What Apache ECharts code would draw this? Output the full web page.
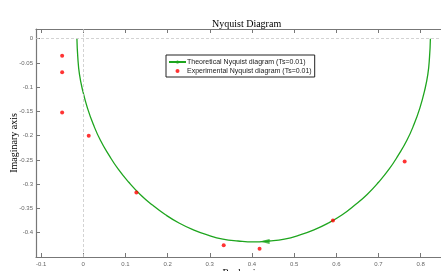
<!DOCTYPE html>
<html>
<head>
    <meta charset="utf-8">
    <style type="text/css">
        html,body { margin: 0px; padding: 0px; height: 100%; background: #fff; }
    </style>
    <script src="https://cdn.jsdelivr.net/npm/echarts@6/dist/echarts.min.js"></script>
</head>
<body>
    <div id="canvas1" style="width: 441px; height: 271px;"></div>
    <script type="text/javascript">
        // tick labels
        var xTicks = [-0.1, 0, 0.1, 0.2, 0.3, 0.4, 0.5, 0.6, 0.7, 0.8];
        var yTicks = [0, -0.05, -0.1, -0.15, -0.2, -0.25, -0.3, -0.35, -0.4];

        // theoretical curve
        var theoReal = [0.823, 0.821, 0.817, 0.809, 0.798, 0.784, 0.767, 0.747, 0.725, 0.700, 0.673,
                        0.644, 0.614, 0.581, 0.547, 0.512, 0.477, 0.441, 0.404, 0.367, 0.331,
                        0.296, 0.261, 0.227, 0.195, 0.164, 0.135, 0.108, 0.083, 0.061, 0.041,
                        0.024, 0.010, -0.001, -0.009, -0.013, -0.015];
        var theoImag = [0, -0.037, -0.073, -0.108, -0.143, -0.177, -0.210, -0.240, -0.269, -0.296, -0.321,
                        -0.343, -0.363, -0.380, -0.394, -0.405, -0.413, -0.417, -0.419, -0.417, -0.413,
                        -0.405, -0.394, -0.380, -0.363, -0.343, -0.321, -0.296, -0.269, -0.240, -0.210,
                        -0.177, -0.143, -0.108, -0.073, -0.037, 0];

        // experimental points
        var expReal = [-0.05, -0.05, -0.05, 0.013, 0.126, 0.333, 0.418, 0.592, 0.762];
        var expImag = [-0.035, -0.069, -0.152, -0.200, -0.317, -0.426, -0.433, -0.375, -0.253];

        // arrow on the curve
        var arrowPt = [0.43, -0.418];

        function pairs(a, b) {
            var out = [];
            for (var i = 0; i < a.length; i++) out.push([a[i], b[i]]);
            return out;
        }

        var tickFont = { fontSize: 6, color: '#666', fontFamily: 'Liberation Sans' };
        var axisCol = '#777';

        var myChart1 = echarts.init(document.getElementById("canvas1"));
        var option1 = {
            animation: false,
            title: {
                text: 'Nyquist Diagram', left: 207, top: 14,
                textStyle: { fontFamily: 'Liberation Serif', fontSize: 10, fontWeight: 'normal', color: '#000' }
            },
            legend: {
                orient: 'vertical', left: 166, top: 55,
                padding: [3, 3, 2, 2], itemGap: 1,
                itemWidth: 17, itemHeight: 4,
                borderColor: '#222', borderWidth: 1, backgroundColor: '#fff',
                textStyle: { fontSize: 7, color: '#222', fontFamily: 'Liberation Sans', padding: [0, 0, 0, -4], lineHeight: 8 },
                data: [
                    { name: 'Theoretical Nyquist diagram (Ts=0.01)' },
                    { name: 'Experimental Nyquist diagram (Ts=0.01)', icon: 'circle' }
                ]
            },
            grid: { left: 36, top: 29, right: -5, bottom: 14, containLabel: false, outerBoundsMode: 'none' },
            xAxis: [{
                type: 'value', position: 'bottom', min: -0.112, max: 0.86,
                name: 'Real axis', nameLocation: 'middle', nameGap: 11, nameMoveOverlap: false,
                nameTextStyle: { fontFamily: 'Liberation Serif', fontSize: 10, color: '#000' },
                axisLine: { onZero: false, lineStyle: { color: axisCol, width: 1.2 } },
                axisTick: { inside: true, length: 4, customValues: xTicks, lineStyle: { color: axisCol } },
                axisLabel: Object.assign({ customValues: xTicks, margin: 4 }, tickFont),
                splitLine: { show: false }
            }, {
                type: 'value', position: 'top', min: -0.112, max: 0.86,
                axisLine: { onZero: false, lineStyle: { color: axisCol, width: 1.2 } },
                axisTick: { inside: true, length: 4, customValues: xTicks, lineStyle: { color: axisCol } },
                axisLabel: { show: false },
                splitLine: { show: false }
            }],
            yAxis: {
                type: 'value', min: -0.45, max: 0.02,
                name: 'Imaginary axis', nameLocation: 'middle', nameGap: 17, nameRotate: 90, nameMoveOverlap: false,
                nameTextStyle: { fontFamily: 'Liberation Serif', fontSize: 10, color: '#000' },
                axisLine: { show: true, onZero: false, lineStyle: { color: axisCol, width: 1.2 } },
                axisTick: { show: true, inside: true, length: 4, customValues: yTicks, lineStyle: { color: axisCol } },
                axisLabel: Object.assign({ customValues: yTicks, margin: 3 }, tickFont),
                splitLine: { show: false }
            },
            series: [{
                name: 'Theoretical Nyquist diagram (Ts=0.01)',
                type: 'line', xAxisIndex: 0, smooth: true,
                symbol: 'none', showSymbol: false,
                lineStyle: { color: '#1ea51e', width: 1.3 },
                itemStyle: { color: '#1ea51e' },
                data: pairs(theoReal, theoImag),
                markLine: {
                    silent: true, symbol: 'none', label: { show: false },
                    lineStyle: { color: '#c8c8c8', type: [3, 2], width: 0.8 },
                    data: [{ xAxis: 0 }, { yAxis: 0 }]
                },
                z: 3
            }, {
                name: 'Experimental Nyquist diagram (Ts=0.01)',
                type: 'scatter', xAxisIndex: 0,
                symbol: 'circle', symbolSize: 4,
                itemStyle: { color: '#ff0000' },
                data: pairs(expReal, expImag),
                z: 4
            }, {
                name: 'arrow', type: 'scatter', xAxisIndex: 0,
                symbol: 'triangle', symbolSize: [5, 10], symbolRotate: 90,
                itemStyle: { color: '#1ea51e' },
                data: [arrowPt], z: 3
            }]
        };
        myChart1.setOption(option1);
    </script>
</body>
</html>
